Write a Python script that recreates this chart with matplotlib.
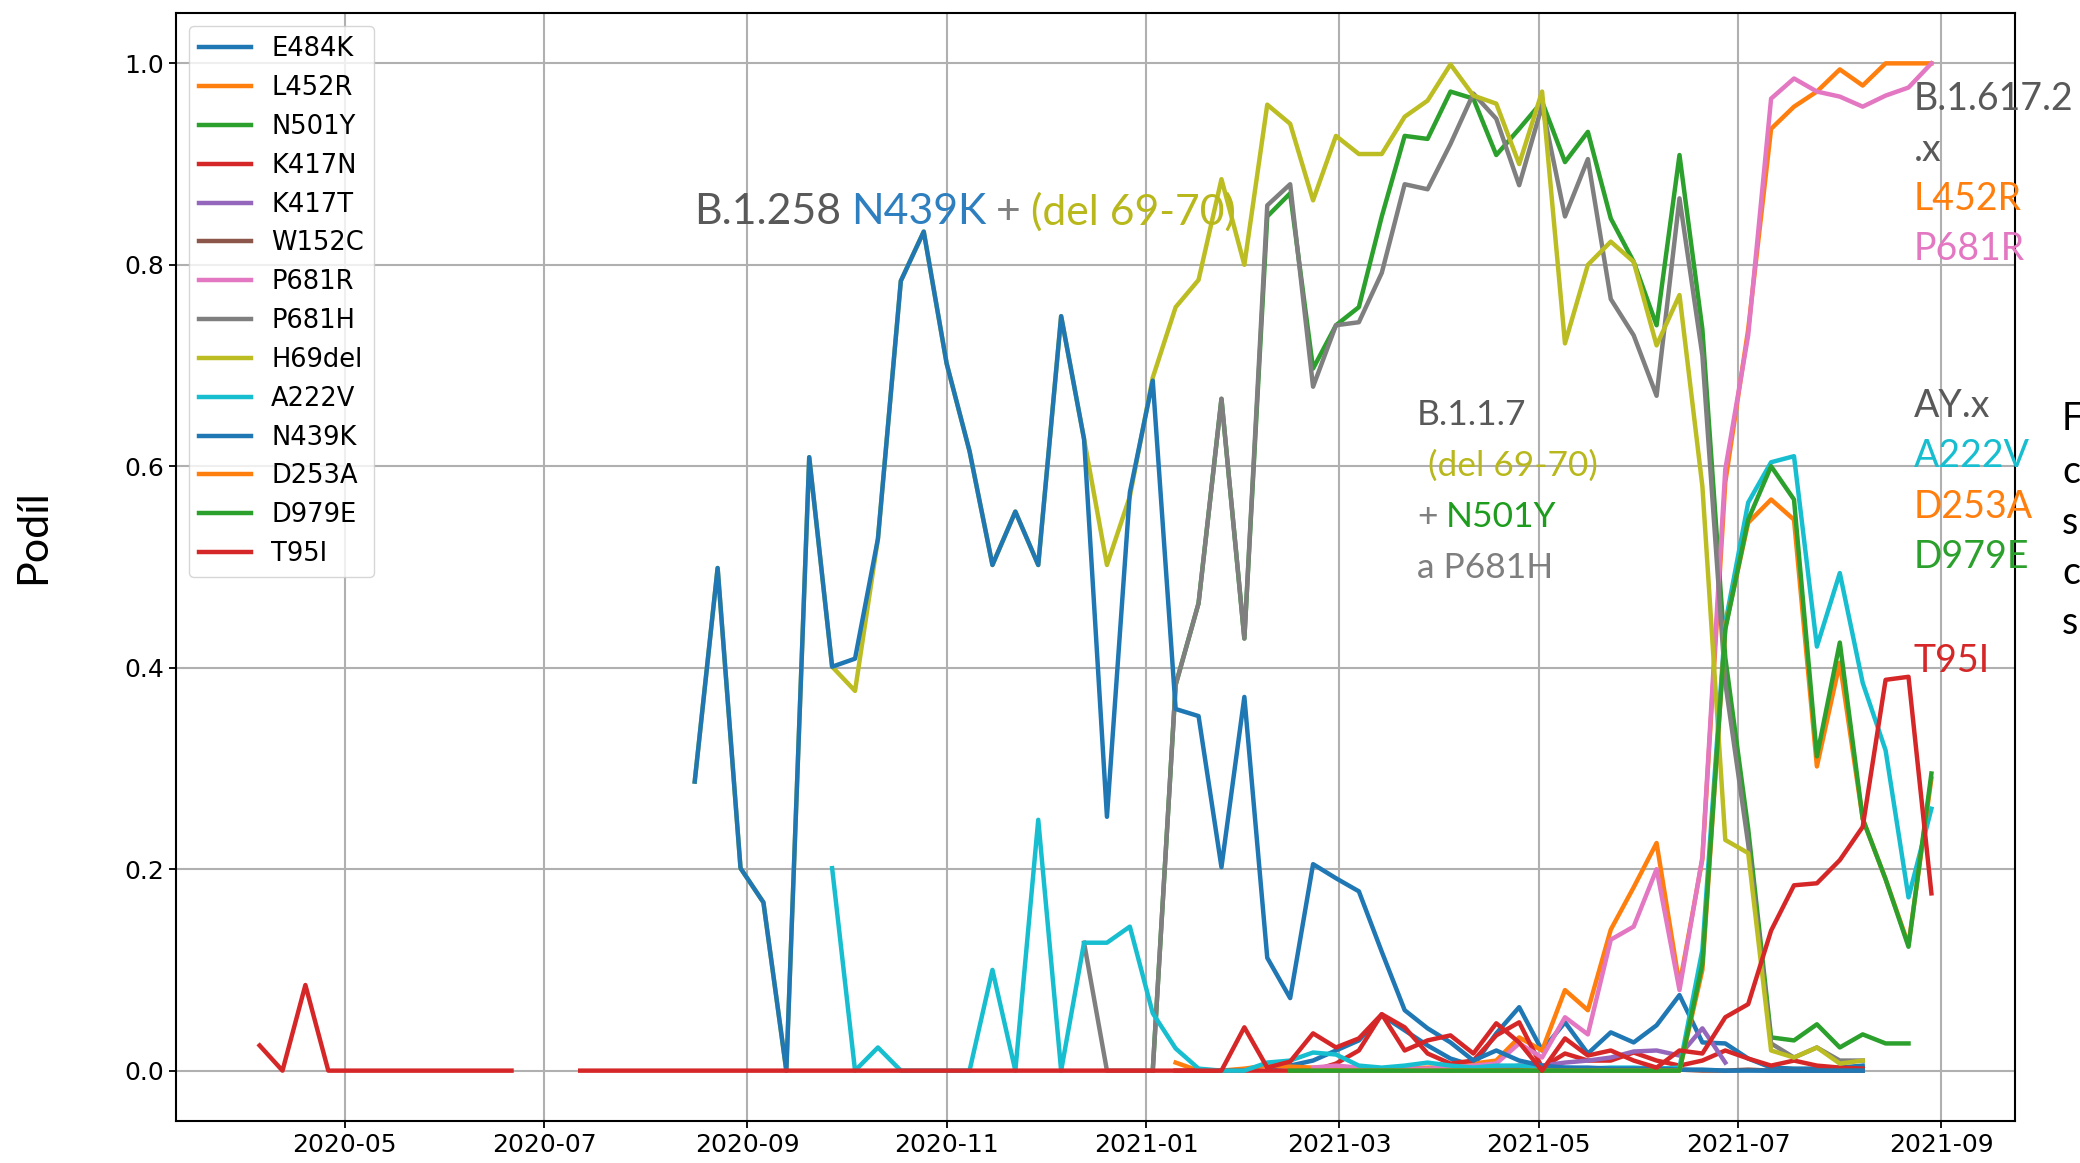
import numpy as np
import pandas as pd
import matplotlib

matplotlib.use("Agg")
import matplotlib.pyplot as plt
import matplotlib.dates as mdates

# weekly samples, Sundays from 2020-04-05 to 2021-08-29
weeks = pd.date_range("2020-04-05", periods=74, freq="7D")
N = len(weeks)

e484k_start = 44
e484k = [0.003, 0.005, 0.01, 0.02, 0.03, 0.055, 0.04, 0.025, 0.012, 0.005,
         0.037, 0.063, 0.02, 0.048, 0.017, 0.038, 0.028, 0.045, 0.075, 0.028,
         0.027, 0.012, 0.003, 0.002, 0.002, 0.003, 0.005]

l452r_start = 40
l452r = [0.008, 0.0, 0.0, 0.002, 0.005, 0.004, 0.003, 0.003, 0.002, 0.002,
         0.002, 0.003, 0.003, 0.007, 0.01, 0.033, 0.02, 0.08, 0.06, 0.14,
         0.182, 0.226, 0.085, 0.21, 0.584, 0.736, 0.935, 0.957, 0.972, 0.994,
         0.978, 1.0, 1.0, 1.0]

n501y_start = 39
n501y = [0.0, 0.383, 0.464, 0.667, 0.429, 0.848, 0.871, 0.697, 0.74, 0.758,
         0.848, 0.928, 0.925, 0.972, 0.965, 0.909, 0.935, 0.962, 0.902, 0.932,
         0.846, 0.803, 0.74, 0.909, 0.736, 0.41, 0.24, 0.033, 0.03, 0.046,
         0.023, 0.036, 0.027, 0.027]

k417n_start = 40
k417n = [0.0, 0.0, 0.0, 0.0, 0.0, 0.0, 0.0, 0.007, 0.02, 0.056,
         0.043, 0.017, 0.007, 0.01, 0.035, 0.048, 0.003, 0.017, 0.01, 0.01,
         0.018, 0.01, 0.005, 0.01, 0.02, 0.012, 0.005, 0.01, 0.005, 0.003,
         0.002]

k417t_start = 54
k417t = [0.002, 0.005, 0.005, 0.008, 0.01, 0.013, 0.019, 0.02, 0.015, 0.042,
         0.008]

w152c_start = 50
w152c = [0.0, 0.001, 0.0, 0.002, 0.0, 0.001, 0.0, 0.001, 0.0, 0.002,
         0.001, 0.0, 0.001, 0.0, 0.0, 0.001, 0.0, 0.0, 0.0, 0.0, 0.0]

p681r_start = 46
p681r = [0.003, 0.005, 0.003, 0.002, 0.002, 0.002, 0.003, 0.005, 0.007, 0.027,
         0.013, 0.053, 0.036, 0.13, 0.143, 0.2, 0.08, 0.212, 0.597, 0.73,
         0.965, 0.985, 0.972, 0.967, 0.957, 0.968, 0.976, 1.0]

p681h_start = 36
p681h = [0.127, 0.0, 0.0, 0.0, 0.383, 0.464, 0.667, 0.429, 0.859, 0.88,
         0.679, 0.74, 0.743, 0.792, 0.88, 0.875, 0.92, 0.97, 0.945, 0.879,
         0.958, 0.848, 0.905, 0.766, 0.73, 0.67, 0.866, 0.71, 0.385, 0.225,
         0.027, 0.013, 0.023, 0.01, 0.01]

h69del_start = 19
h69del = [0.287, 0.499, 0.201, 0.167, 0.0, 0.609, 0.401, 0.377, 0.528, 0.784,
          0.833, 0.702, 0.615, 0.502, 0.555, 0.502, 0.749, 0.627, 0.502, 0.57,
          0.688, 0.758, 0.785, 0.885, 0.80, 0.959, 0.94, 0.864, 0.928, 0.91,
          0.91, 0.947, 0.963, 0.999, 0.968, 0.96, 0.90, 0.972, 0.722, 0.80,
          0.823, 0.803, 0.72, 0.77, 0.58, 0.229, 0.216, 0.02, 0.013, 0.023,
          0.007, 0.01]

a222v_start = 25
a222v = [0.201, 0.0, 0.023, 0.0, 0.0, 0.0, 0.0, 0.1, 0.0, 0.249,
         0.0, 0.127, 0.127, 0.143, 0.057, 0.022, 0.002, 0.0, 0.0, 0.008,
         0.01, 0.018, 0.016, 0.005, 0.003, 0.005, 0.008, 0.005, 0.003, 0.005,
         0.005, 0.003, 0.003, 0.002, 0.003, 0.003, 0.002, 0.003, 0.12,
         0.444, 0.564, 0.604, 0.61, 0.421, 0.494, 0.385, 0.318, 0.172, 0.26]

n439k_start = 19
n439k = [0.287, 0.499, 0.201, 0.167, 0.0, 0.609, 0.401, 0.409, 0.528, 0.784,
         0.833, 0.702, 0.615, 0.502, 0.555, 0.502, 0.749, 0.627, 0.252, 0.574,
         0.685, 0.359, 0.352, 0.202, 0.371, 0.112, 0.072, 0.205, 0.191, 0.178,
         0.118, 0.06, 0.042, 0.028, 0.01, 0.02, 0.01, 0.005, 0.003, 0.003,
         0.002, 0.002, 0.002, 0.001, 0.001, 0.0, 0.0, 0.0, 0.0, 0.0,
         0.0, 0.0]

d253a_start = 45
d253a = [0.0] * 18 + [0.1, 0.44, 0.544, 0.567, 0.547, 0.302, 0.405, 0.25,
                      0.19, 0.125, 0.29]

d979e_start = 45
d979e = [0.0] * 18 + [0.106, 0.438, 0.547, 0.60, 0.567, 0.312, 0.425, 0.25,
                      0.19, 0.123, 0.295]

t95i_start = 0
t95i = ([0.025, 0.0, 0.085] + [0.0] * 9 + [None, None] + [0.0] * 29 +
        [0.043, 0.003, 0.009, 0.037, 0.023, 0.032, 0.056, 0.02, 0.03, 0.035,
         0.017, 0.047, 0.028, 0.0, 0.032, 0.015, 0.02, 0.01, 0.003, 0.02,
         0.017, 0.053, 0.066, 0.139, 0.184, 0.186, 0.209, 0.242, 0.388, 0.391,
         0.176])

labels = ["E484K", "L452R", "N501Y", "K417N", "K417T", "W152C", "P681R",
          "P681H", "H69del", "A222V", "N439K", "D253A", "D979E", "T95I"]
starts = [e484k_start, l452r_start, n501y_start, k417n_start, k417t_start,
          w152c_start, p681r_start, p681h_start, h69del_start, a222v_start,
          n439k_start, d253a_start, d979e_start, t95i_start]
values = [e484k, l452r, n501y, k417n, k417t, w152c, p681r, p681h, h69del,
          a222v, n439k, d253a, d979e, t95i]


def to_series(start, vals):
    arr = np.full(N, np.nan)
    arr[start:start + len(vals)] = [np.nan if v is None else v for v in vals]
    return arr


W, H = 2080, 1163
fig = plt.figure(figsize=(W / 100, H / 100), dpi=100)
ax = fig.add_axes([176 / W, 1 - 1121 / H, (2015 - 176) / W, (1121 - 13) / H])

for label, start, vals in zip(labels, starts, values):
    ax.plot(weeks, to_series(start, vals), linewidth=3.2, label=label)

ax.xaxis.set_major_locator(mdates.MonthLocator(bymonth=[1, 3, 5, 7, 9, 11]))
ax.xaxis.set_major_formatter(mdates.DateFormatter("%Y-%m"))
ax.set_yticks([0.0, 0.2, 0.4, 0.6, 0.8, 1.0])
ax.tick_params(labelsize=18, length=5, width=1.3)
ax.grid(True, color="#b0b0b0", linewidth=1.5)
for sp in ax.spines.values():
    sp.set_linewidth(1.5)
ax.legend(loc="upper left", fontsize=18.5, handlelength=2.0)

fig.text(33 / W, 1 - 537 / H, "Podíl", rotation=90, ha="center", va="center",
         fontsize=31, family="Lato", color="black")

renderer = fig.canvas.get_renderer()


def put_line(x_px, y_px, parts, size):
    x = x_px
    for text, color in parts:
        t = fig.text(x / W, 1 - y_px / H, text, color=color, fontsize=size,
                     family="Lato", ha="left", va="center", zorder=10)
        x += t.get_window_extent(renderer).width + size * 0.32


DARK = "#595959"
GREY = "#7f7f7f"
OLIVE = "#b8b81c"

put_line(694, 212, [("B.1.258", DARK), ("N439K", "#2e7fbf"), ("+", GREY),
                    ("(del 69-70)", OLIVE)], 30.8)

put_line(1417, 415, [("B.1.1.7", DARK)], 25.5)
put_line(1428, 466, [("(del 69-70)", OLIVE)], 25.5)
put_line(1417, 517, [("+", GREY), ("N501Y", "#1e9c1e")], 25.5)
put_line(1417, 568, [("a P681H", GREY)], 25.5)

right_block = [("B.1.617.2", DARK, 99), (".x", DARK, 150),
               ("L452R", "#ff7f0e", 199), ("P681R", "#e377c2", 249),
               ("AY.x", DARK, 406), ("A222V", "#17becf", 456),
               ("D253A", "#ff7f0e", 507), ("D979E", "#2ca02c", 557),
               ("T95I", "#d62728", 661)]
for text, color, y in right_block:
    put_line(1914, y, [(text, color)], 27)

for text, y in [("F", 419), ("c", 472), ("s", 523), ("c", 573), ("s", 623)]:
    put_line(2062, y, [(text, "black")], 27)

fig.savefig("out.png", dpi=100)
